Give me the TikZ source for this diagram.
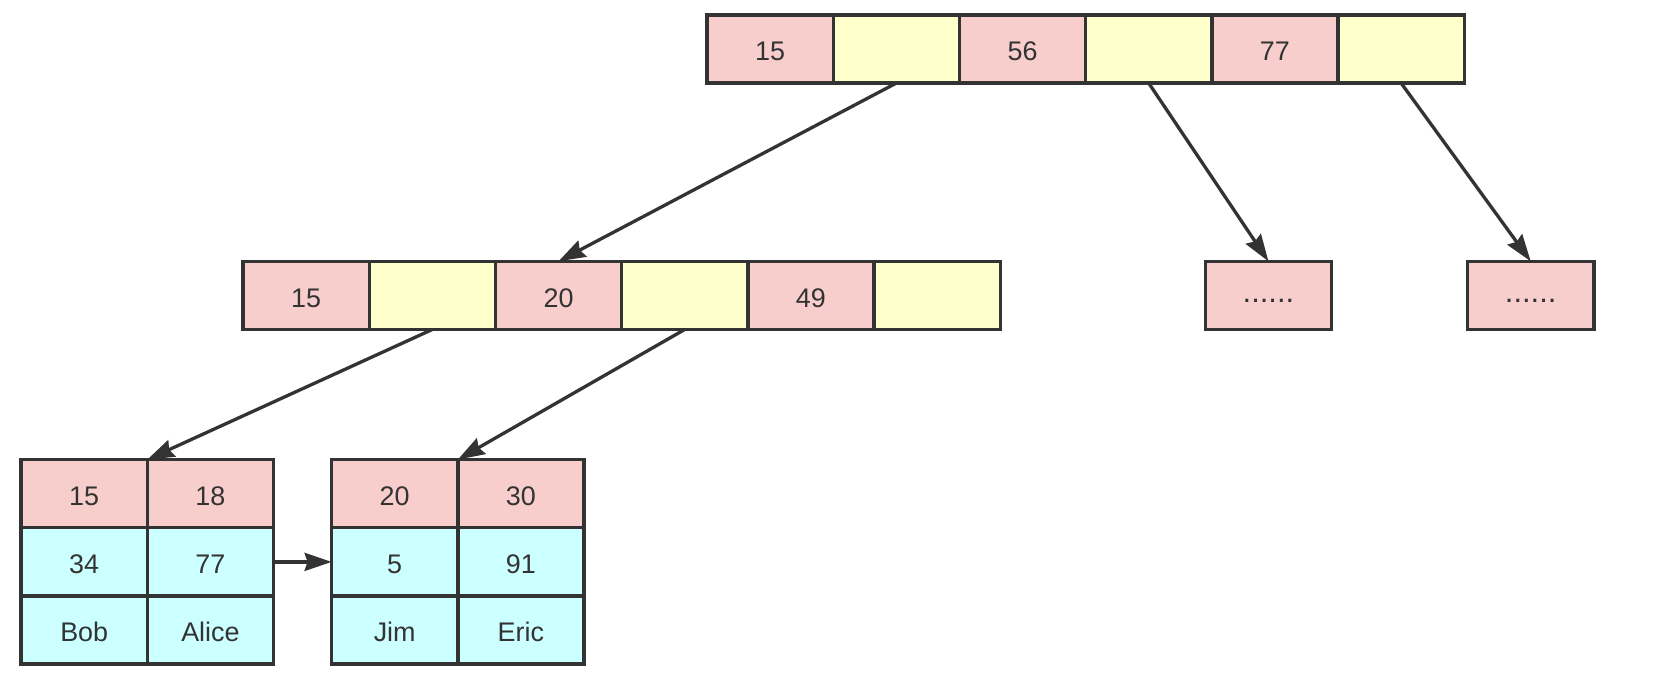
\documentclass[tikz,border=0pt]{standalone}
\usepackage{fontspec}
\setmainfont{Liberation Sans}
\usetikzlibrary{arrows.meta,positioning}
\definecolor{keypink}{HTML}{F8CECC}
\definecolor{ptryellow}{HTML}{FFFFCC}
\definecolor{rowcyan}{HTML}{CCFFFF}
\definecolor{inkgray}{HTML}{333333}

\begin{document}
\begin{tikzpicture}[x=1bp, y=1bp,
  cell/.style={draw=inkgray, line width=3.4bp, text=inkgray, minimum width=126.2bp,
    minimum height=68.2bp, inner sep=0pt, outer sep=0pt, text height=23.5bp, text depth=0pt,
    font=\fontsize{27}{32}\selectfont},
  keycell/.style={cell, fill=keypink},
  ptrcell/.style={cell, fill=ptryellow},
  datacell/.style={cell, fill=rowcyan},
  morecell/.style={keycell, font=\fontsize{31}{36}\selectfont, text height=15bp},
  link/.style={draw=inkgray, line width=3.3bp, -{Stealth[length=27bp,width=18bp,inset=3bp]}}]
\useasboundingbox[fill=white] (0,0) rectangle (1672,692);
% root page
\foreach \lbl/\sty [count=\i] in {15/keycell, {}/ptrcell, 56/keycell, {}/ptrcell, 77/keycell, {}/ptrcell}
  \node[\sty] (top\i) at ({707+126.2*(\i-0.5)},643) {\lbl};
% inner page
\foreach \lbl/\sty [count=\i] in {15/keycell, {}/ptrcell, 20/keycell, {}/ptrcell, 49/keycell, {}/ptrcell}
  \node[\sty] (mid\i) at ({243+126.2*(\i-0.5)},396.6) {\lbl};
\node[morecell] (more1) at (1268.4,396.6) {......};
\node[morecell] (more2) at (1530.7,396.6) {......};
% leaf pages
\foreach \p/\q/\sty [count=\r] in {15/18/keycell, 34/77/datacell, Bob/Alice/datacell} {
  \node[\sty] (la\r1) at (84.2,{198.3-68.2*(\r-1)}) {\p};
  \node[\sty] (la\r2) at (210.4,{198.3-68.2*(\r-1)}) {\q};
}
\foreach \p/\q/\sty [count=\r] in {20/30/keycell, 5/91/datacell, Jim/Eric/datacell} {
  \node[\sty] (lb\r1) at (394.7,{198.3-68.2*(\r-1)}) {\p};
  \node[\sty] (lb\r2) at (520.9,{198.3-68.2*(\r-1)}) {\q};
}
% pointers
\draw[link] (top2.south) -- (mid3.north);
\draw[link] (top4.south) -- (more1.north);
\draw[link] (top6.south) -- (more2.north);
\draw[link] (mid2.south) -- (la11.north east);
\draw[link] (mid4.south) -- (lb11.north east);
\draw[link] (la22.east) -- (lb21.west);
\end{tikzpicture}
\end{document}
